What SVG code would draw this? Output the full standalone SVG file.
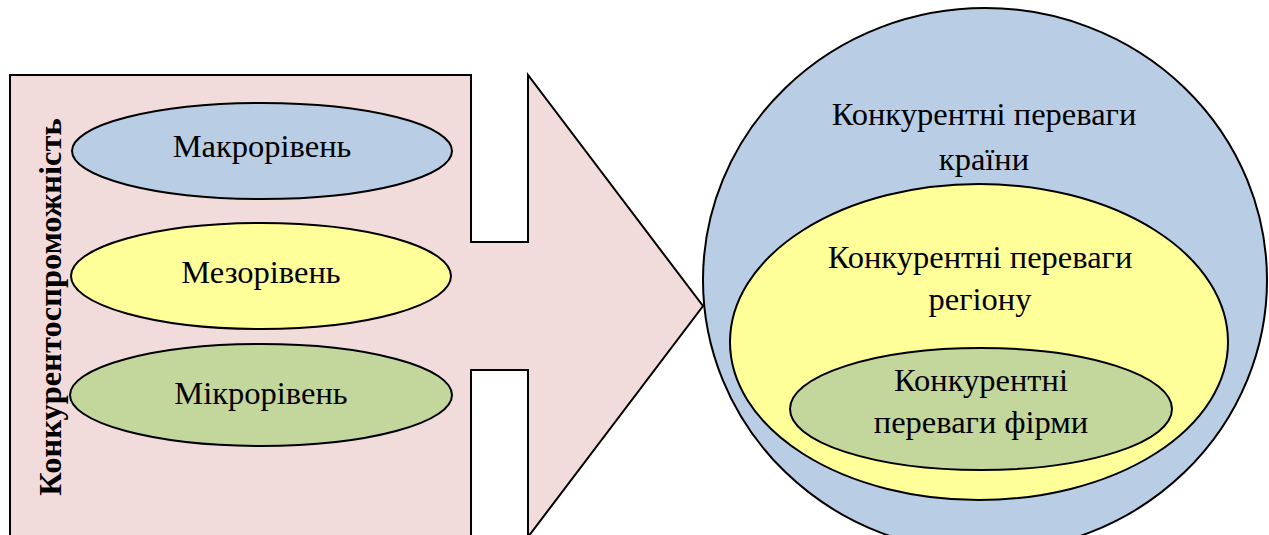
<svg xmlns="http://www.w3.org/2000/svg" width="1269" height="535" viewBox="0 0 1269 535">
  <style>
    .ln { stroke: #000; stroke-width: 2; }
    .t { font-family: "Liberation Serif", "DejaVu Serif", serif; font-size: 32.5px; fill: #000; text-anchor: middle; }
    .b { font-weight: bold; font-size: 32.5px; }
  </style>
  <rect width="1269" height="535" fill="#fff"/>

  <!-- block arrow with notched body -->
  <g id="arrow">
    <polygon class="ln" fill="#F2DCDB" points="10,75 471,75 471,242 528,242 528,75 703,306 528,537 528,370 471,370 471,540 10,540"/>
    <text class="t b" transform="translate(61,307) rotate(-90)">Конкурентоспроможність</text>
  </g>

  <g id="macro">
    <ellipse class="ln" cx="262" cy="151" rx="190" ry="48" fill="#B9CDE5"/>
    <text class="t" x="262" y="157">Макрорівень</text>
  </g>
  <g id="meso">
    <ellipse class="ln" cx="261" cy="276" rx="190" ry="53" fill="#FFFF99"/>
    <text class="t" x="261" y="283">Мезорівень</text>
  </g>
  <g id="micro">
    <ellipse class="ln" cx="261" cy="395" rx="191" ry="51" fill="#C3D69B"/>
    <text class="t" x="261" y="404">Мікрорівень</text>
  </g>

  <!-- nested levels of advantage -->
  <g id="country">
    <ellipse class="ln" cx="985" cy="280" rx="282" ry="272" fill="#B9CDE5"/>
    <text class="t" x="984" y="125">Конкурентні переваги</text>
    <text class="t" x="984" y="170">країни</text>
  </g>
  <g id="region">
    <ellipse class="ln" cx="979" cy="342" rx="249" ry="158" fill="#FFFF99"/>
    <text class="t" x="980" y="268">Конкурентні переваги</text>
    <text class="t" x="980" y="310">регіону</text>
  </g>
  <g id="firm">
    <ellipse class="ln" cx="981" cy="409" rx="191" ry="61" fill="#C3D69B"/>
    <text class="t" x="981" y="391">Конкурентні</text>
    <text class="t" x="981" y="433">переваги фірми</text>
  </g>
</svg>
